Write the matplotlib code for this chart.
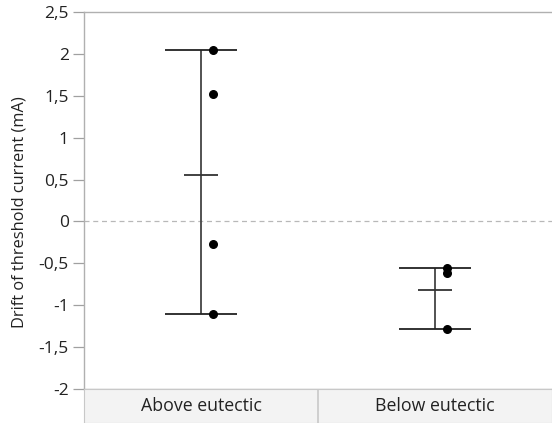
import numpy as np
import matplotlib.pyplot as plt

plt.rcParams['font.family'] = ['Open Sans', 'DejaVu Sans']

# Data
groups = ['Above eutectic', 'Below eutectic']
above = [2.05, 1.52, -0.27, -1.10]
below = [-0.56, -0.61, -1.28]
values = [above, below]
yticks = [-2, -1.5, -1, -0.5, 0, 0.5, 1, 1.5, 2, 2.5]

fig = plt.figure(figsize=(5.52, 4.23), dpi=100)
W, H = 552, 423
ax = fig.add_axes([84 / W, (H - 389) / H, (W - 84) / W, (389 - 12) / H])

for i, vals in enumerate(values):
    vals = np.array(vals)
    lo, hi, m = vals.min(), vals.max(), vals.mean()
    ax.vlines(i, lo, hi, color='#444444', lw=1.3)
    ax.hlines([lo, hi], i - 0.155, i + 0.155, color='#222222', lw=1.3)
    ax.hlines(m, i - 0.073, i + 0.073, color='#333333', lw=1.3)
    ax.scatter(np.full(len(vals), i + 0.05), vals, s=30, color='black', zorder=3)

ax.axhline(0, color='#b8b8b8', lw=0.9, ls=(0, (4, 3)), zorder=0)

ax.set_xlim(-0.5, 1.5)
ax.set_ylim(-2, 2.5)
ax.set_xticks([])
ax.set_yticks(yticks)
ax.set_yticklabels([('%g' % t).replace('.', ',') for t in yticks])
ax.tick_params(axis='y', length=8, width=0.9, color='#a0a0a0', labelsize=12.5,
               labelcolor='#222222', pad=3)
ax.set_ylabel('Drift of threshold current (mA)', fontsize=11.8, color='#222222')
ax.yaxis.set_label_coords(-0.12, 0.47)
for s in ['left', 'top', 'bottom']:
    ax.spines[s].set_color('#b0b0b0')
    ax.spines[s].set_linewidth(1.0)
ax.spines['right'].set_visible(False)

# Category band below the plot
band = fig.add_axes([84 / W, 0, (W - 84) / W, (H - 389) / H])
band.set_facecolor('#f3f3f3')
band.set_xlim(-0.5, 1.5)
band.set_ylim(0, 1)
band.set_xticks([])
band.set_yticks([])
for s in band.spines.values():
    s.set_color('#c8c8c8')
band.axvline(0.5, color='#c8c8c8', lw=1.2)
for i, g in enumerate(groups):
    band.text(i, 0.5, g, ha='center', va='center', fontsize=12.8, color='#222222')

plt.savefig('out.png', dpi=100)
